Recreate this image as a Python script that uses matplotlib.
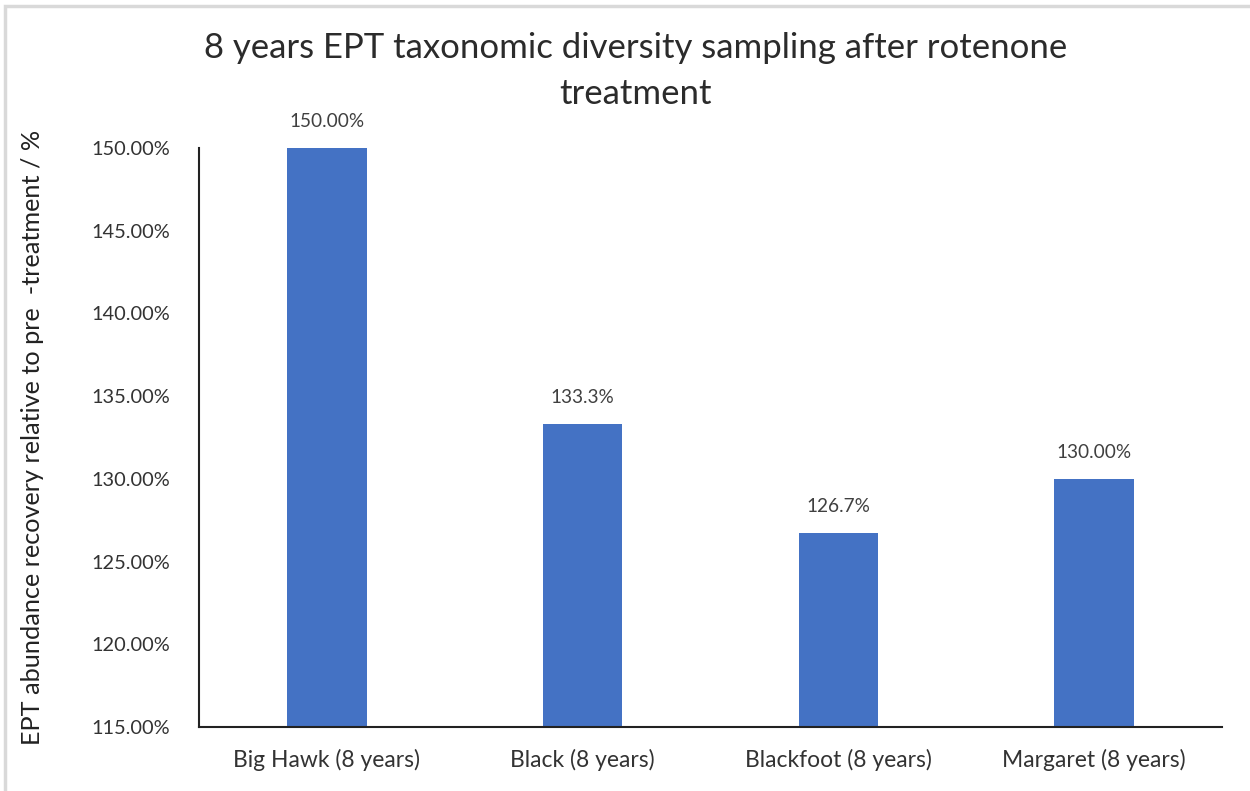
import matplotlib
matplotlib.use("Agg")
import matplotlib.pyplot as plt
from matplotlib.patches import Rectangle

# EPT recovery after rotenone, 8 years on
sites = ["Big Hawk (8 years)", "Black (8 years)", "Blackfoot (8 years)", "Margaret (8 years)"]
recovery = [150.0, 133.3, 126.7, 130.0]
value_labels = ["150.00%", "133.3%", "126.7%", "130.00%"]
yticks = [115, 120, 125, 130, 135, 140, 145, 150]

plt.rcParams["font.family"] = ["Lato", "DejaVu Sans"]

fig = plt.figure(figsize=(12.5, 7.91), dpi=100)
fig.patch.set_facecolor("white")

# thin grey frame around the chart area
fig.patches.append(Rectangle((5 / 1250, -0.02), 1.05, (788 - 3 + 16) / 791,
                             transform=fig.transFigure, fill=False,
                             edgecolor="#d9d9d9", linewidth=2.5))

ax = fig.add_axes([199 / 1250, 1 - 727 / 791, (1222 - 199) / 1250, (727 - 148) / 791])

x = list(range(len(sites)))
ax.bar(x, recovery, width=0.31, color="#4472c4", zorder=2)

for xi, v, lab in zip(x, recovery, value_labels):
    ax.annotate(lab, (xi, v), xytext=(0, 13), textcoords="offset points",
                ha="center", va="bottom", fontsize=13.7, color="#404040")

ax.set_xlim(-0.5, 3.5)
ax.set_ylim(115, 150)
ax.set_yticks(yticks)
ax.set_yticklabels([f"{t:.2f}%" for t in yticks], fontsize=14.4, color="#333333")
ax.set_xticks(x)
ax.set_xticklabels(sites, fontsize=16.5, color="#333333")
ax.tick_params(axis="both", length=0)
ax.tick_params(axis="y", pad=21)
ax.tick_params(axis="x", pad=16)

for side in ["top", "right"]:
    ax.spines[side].set_visible(False)
ax.spines["left"].set_color("#222222")
ax.spines["bottom"].set_color("#222222")
ax.spines["left"].set_linewidth(1.5)
ax.spines["bottom"].set_linewidth(1.5)

fig.text(33 / 1250, 1 - 437 / 791, "EPT abundance recovery relative to pre  -treatment / %",
         rotation=90, ha="center", va="center", fontsize=18.2, color="#222222")

fig.text(636 / 1250, 1 - 71 / 791,
         "8 years EPT taxonomic diversity sampling after rotenone\ntreatment",
         ha="center", va="center", fontsize=25, color="#2b2b2b", linespacing=1.5)

fig.savefig("out.png", dpi=100, facecolor="white")
